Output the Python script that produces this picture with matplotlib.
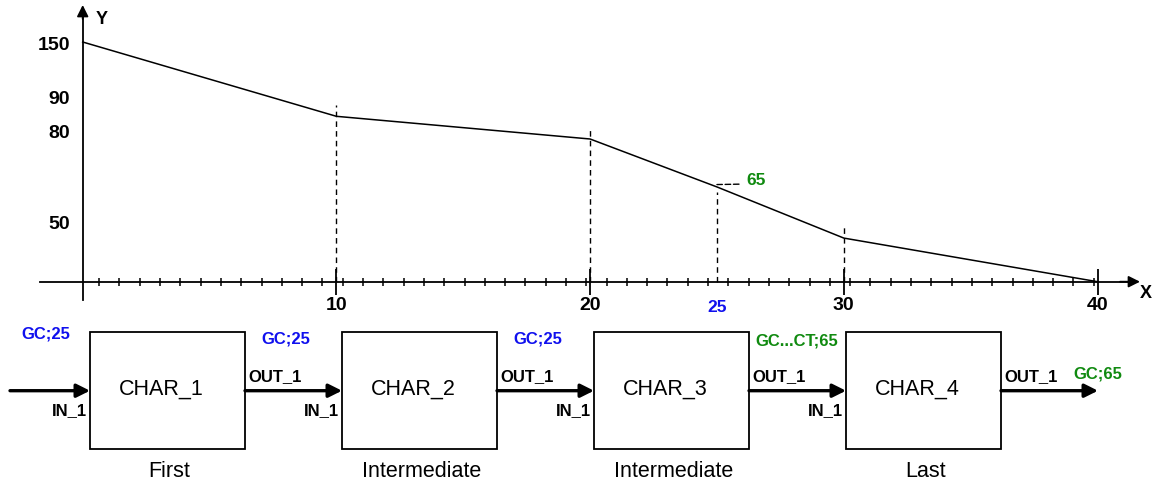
import numpy as np
import matplotlib
matplotlib.use('Agg')
import matplotlib.pyplot as plt
from matplotlib.patches import Rectangle

plt.rcParams['font.family'] = ['Liberation Sans', 'DejaVu Sans']

# characteristic curve (schematic y units)
x_pts = [0, 10, 20, 25, 30, 40]
y_pts = [150, 103.5, 89.3, 59.3, 27.3, 0]
x_major = [10, 20, 30, 40]
x_major_labels = ['10', '20', '30', '40']
y_tick_pos = [150, 115.6, 94.9, 37.4]
y_tick_labels = ['150', '90', '80', '50']
guide_x = [10, 20, 25, 30]
guide_y = [103.5, 89.3, 59.3, 27.3]
mark_x = 25
mark_label = '65'

# block chain below
blocks = ['CHAR_1', 'CHAR_2', 'CHAR_3', 'CHAR_4']
stages = ['First', 'Intermediate', 'Intermediate', 'Last']
signals = ['GC;25', 'GC;25', 'GC;25', 'GC...CT;65', 'GC;65']
signal_colors = ['#1010ee', '#1010ee', '#1010ee', '#108a10', '#108a10']

BLUE = '#1010ee'
GREEN = '#108a10'

fig = plt.figure(figsize=(11.6, 4.85), dpi=100)

# ---- graph: axes covering whole figure, scaled so it sits where the original is
ax = fig.add_axes([0, 0, 1, 1])
px_x = 25.37      # pixels per x unit
px_y = 1 / 0.6258 # pixels per y unit
x0, y0 = 82.7, 282.7
ax.set_xlim(-x0 / px_x, (1160 - x0) / px_x)
ax.set_ylim(-(485 - y0) / px_y, y0 / px_y)
ax.patch.set_visible(False)

ax.plot(x_pts, y_pts, color='black', lw=1.1, zorder=3)
# dashed guides, the one under the 65 mark stops just below the curve
guide_ext = np.where(np.array(guide_x) == mark_x, -3, 7)
ax.vlines(guide_x, 0, np.array(guide_y) + guide_ext, colors='black', lw=1.0,
          linestyles=(0, (4, 3)), zorder=2)

for s in ['top', 'right']:
    ax.spines[s].set_visible(False)
ax.spines['left'].set_position(('data', 0))
ax.spines['bottom'].set_position(('data', 0))
ax.spines['left'].set_bounds(-18 / px_y, (y0 - 14) / px_y)
ax.spines['bottom'].set_bounds(-43 / px_x, (1130 - x0) / px_x)
ax.spines['left'].set_linewidth(1.3)
ax.spines['bottom'].set_linewidth(1.3)

# arrow heads on axes
ax.annotate('', xy=(0, (y0 - 6) / px_y), xytext=(0, (y0 - 20) / px_y),
            arrowprops=dict(arrowstyle='-|>', color='black', lw=1.3, mutation_scale=17,
                            shrinkA=0, shrinkB=0))
ax.annotate('', xy=((1140 - x0) / px_x, 0), xytext=((1120 - x0) / px_x, 0),
            arrowprops=dict(arrowstyle='-|>', color='black', lw=1.3, mutation_scale=17,
                            shrinkA=0, shrinkB=0))
ax.text(13 / px_x, (y0 - 19) / px_y, 'Y', fontsize=13, fontweight='bold', va='center', ha='left')
ax.text((1146 - x0) / px_x, -11 / px_y, 'X', fontsize=13, fontweight='bold', va='center', ha='center')

ax.set_xticks(x_major)
ax.set_xticklabels(x_major_labels, fontsize=14, fontweight='bold')
ax.set_xticks(np.arange(0.65, 40, 0.8), minor=True)
ax.tick_params(axis='x', which='major', direction='inout', length=19, width=1.3, pad=1)
ax.tick_params(axis='x', which='minor', direction='inout', length=6, width=1.1)
ax.set_yticks(y_tick_pos)
ax.set_yticklabels(y_tick_labels, fontsize=14, fontweight='bold')
ax.tick_params(axis='y', length=0, pad=9)

# blue 25 under the axis
ax.text(mark_x, -25 / px_y, str(mark_x), color=BLUE, fontsize=12.5, fontweight='bold',
        ha='center', va='center')
# 65 marker on the curve
y_mark = y_pts[x_pts.index(mark_x)]
ax.annotate(mark_label, xy=(mark_x, y_mark + 1.5), xytext=(29, 5), textcoords='offset pixels',
            color=GREEN, fontsize=12.5, fontweight='bold', ha='left', va='center',
            arrowprops=dict(arrowstyle='-', color='black', lw=1.0, linestyle=(0, (4, 2)),
                            relpos=(0, 0.2), shrinkA=3, shrinkB=0))

# ---- block chain in pixel coordinates
dg = fig.add_axes([0, 0, 1, 1])
dg.set_xlim(0, 1160)
dg.set_ylim(485, 0)
dg.axis('off')
dg.patch.set_visible(False)

bw, bh, btop, step, bx0 = 155, 117, 333, 252, 90
ya = 391.7
lefts = [bx0 + i * step for i in range(len(blocks))]
for i, (name, stage) in enumerate(zip(blocks, stages)):
    l = lefts[i]
    dg.add_patch(Rectangle((l, btop), bw, bh, fill=False, ec='black', lw=1.3))
    dg.text(l + bw / 2 - 6, btop + 56, name, fontsize=15.5, ha='center', va='center')
    dg.text(l + bw / 2 + 2, btop + 139, stage, fontsize=15.5, ha='center', va='center')
    dg.text(l - 3, ya + 19, 'IN_1', fontsize=12, fontweight='bold', ha='right', va='center')
    dg.text(l + bw + 3, ya - 15, 'OUT_1', fontsize=12, fontweight='bold', ha='left', va='center')

starts = [10] + [l + bw for l in lefts]
ends = lefts + [1098]
for s, e in zip(starts, ends):
    dg.annotate('', xy=(e, ya), xytext=(s, ya),
                arrowprops=dict(arrowstyle='-|>', color='black', lw=2.4, mutation_scale=20,
                                shrinkA=0, shrinkB=0))

sig_pos = [(46, 334), (286, 339), (538, 339), (797, 341), (1098, 374)]
for (sx, sy), txt, c in zip(sig_pos, signals, signal_colors):
    t = dg.text(sx, sy, txt, color=c, fontsize=12, fontweight='bold', ha='center', va='center')
    if txt.startswith('GC...'):
        t.set_bbox(dict(facecolor='white', edgecolor='none', pad=1.5))

plt.savefig('out.png', dpi=100)
